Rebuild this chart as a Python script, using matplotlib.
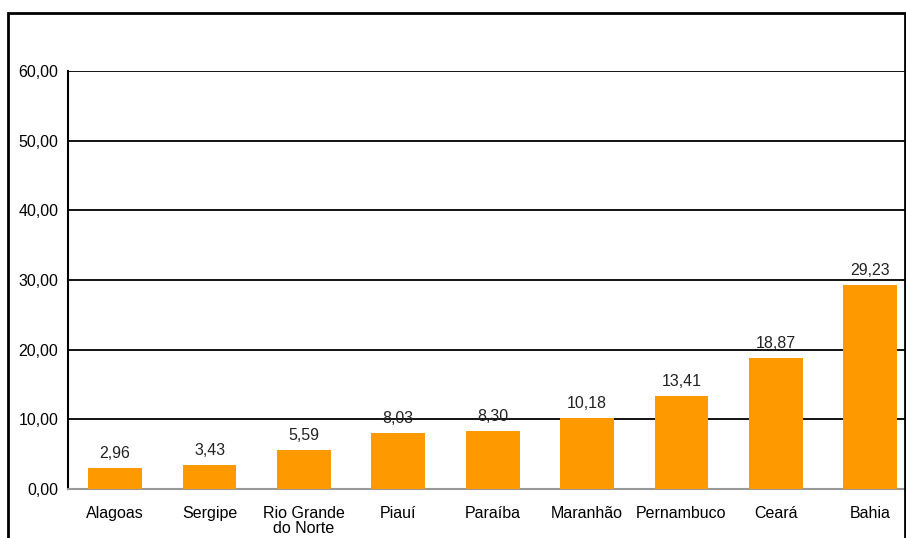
import matplotlib.pyplot as plt
from matplotlib.patches import Rectangle
from matplotlib.ticker import FuncFormatter

plt.rcParams['font.family'] = ['Liberation Sans', 'DejaVu Sans']

states = ['Alagoas', 'Sergipe', 'Rio Grande\ndo Norte', 'Piauí', 'Paraíba',
          'Maranhão', 'Pernambuco', 'Ceará', 'Bahia']
values = [2.96, 3.43, 5.59, 8.03, 8.30, 10.18, 13.41, 18.87, 29.23]

fig = plt.figure(figsize=(9.06, 5.38), dpi=100)
ax = fig.add_axes([68 / 906, 1 - 489 / 538, 838 / 906, 418 / 538])

x = list(range(len(states)))
bars = ax.bar(x, values, width=0.57, color='#FF9900', zorder=3)

# data labels with comma decimal
ax.bar_label(bars, labels=[f'{v:.2f}'.replace('.', ',') for v in values],
             padding=5, fontsize=11.5, color='#222222')

ax.set_xlim(-0.5, 8.38)
ax.set_ylim(0, 60)
ax.set_yticks(range(0, 61, 10))
ax.yaxis.set_major_formatter(FuncFormatter(lambda v, p: f'{v:.2f}'.replace('.', ',')))
ax.set_xticks(x)
ax.set_xticklabels(states, fontsize=11.5, linespacing=1.0)
ax.tick_params(axis='y', labelsize=11.5, length=0, pad=7)
ax.tick_params(axis='x', length=0, pad=12)

ax.grid(axis='y', color='black', linewidth=1.3, zorder=1)
for s in ['top', 'right']:
    ax.spines[s].set_visible(False)
ax.spines['left'].set_linewidth(1.5)
ax.spines['left'].set_color('black')
ax.spines['bottom'].set_color('#999999')
ax.spines['bottom'].set_linewidth(1.5)

# outer chart frame
fig.patches.append(Rectangle((8 / 906, -0.1), 897 / 906, 1.1 - 13 / 538,
                             transform=fig.transFigure, fill=False,
                             edgecolor='black', linewidth=2))

fig.savefig('out.png', dpi=100)
